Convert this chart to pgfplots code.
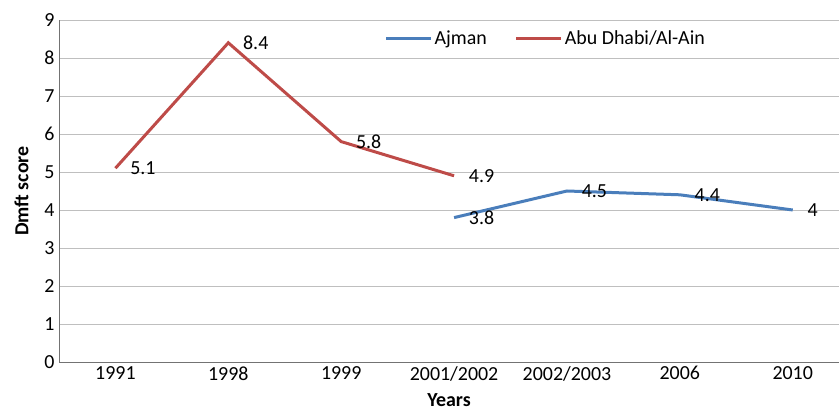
\documentclass[border=0pt]{standalone}
\usepackage{pgfplots}
\pgfplotsset{compat=1.18}
\usepackage{fontspec}
\setmainfont{Carlito}
\definecolor{ajman}{HTML}{4A7EBB}
\definecolor{abu}{HTML}{BE4B48}
\begin{document}
\begin{tikzpicture}
\begin{axis}[
  scale only axis, width=780bp, height=342bp,
  xmin=-0.5, xmax=6.41, ymin=0, ymax=9,
  xtick={0,...,6},
  xticklabels={1991,1998,1999,2001/2002,2002/2003,2006,2010},
  ytick={0,...,9},
  axis x line=bottom, axis y line=left,
  axis line style={-, draw=black!55, line width=1bp},
  major tick length=0pt,
  ymajorgrids, grid style={draw=black!25, line width=0.8bp},
  tick label style={font=\fontsize{20}{22}\selectfont},
  xticklabel style={yshift=-1bp},
  yticklabel style={xshift=-1bp},
  /pgf/number format/assume math mode=true,
  xlabel={Years}, ylabel={Dmft score},
  xlabel style={at={(axis description cs:0.5,-0.111)}, anchor=center, font=\fontsize{20}{22}\selectfont\bfseries},
  ylabel style={at={(axis description cs:-0.048,0.5)}, anchor=center, font=\fontsize{20}{22}\selectfont\bfseries},
  legend style={at={(axis description cs:0.624,0.947)}, anchor=center, draw=none, fill=none,
    legend columns=2, font=\fontsize{20}{22}\selectfont,
    /tikz/every even column/.append style={column sep=26bp}},
  legend image code/.code={\draw[#1, line width=3bp] (0bp,0bp) -- (45bp,0bp);},
  nodes near coords,
  every node near coord/.append style={anchor=west, xshift=10bp, yshift=0pt, text=black, font=\fontsize{20}{22}\selectfont},
  clip=false,
]
\addplot[ajman, line width=3bp, mark=none] coordinates {(3,3.8) (4,4.5) (5,4.4) (6,4)};
\addlegendentry{Ajman}
\addplot[abu, line width=3bp, mark=none] coordinates {(0,5.1) (1,8.4) (2,5.8) (3,4.9)};
\addlegendentry{Abu Dhabi/Al-Ain}
\end{axis}
\pgfresetboundingbox
\path ([xshift=-59bp,yshift=-49bp]current axis.south west) rectangle ([yshift=20bp]current axis.north east);
\end{tikzpicture}
\end{document}
